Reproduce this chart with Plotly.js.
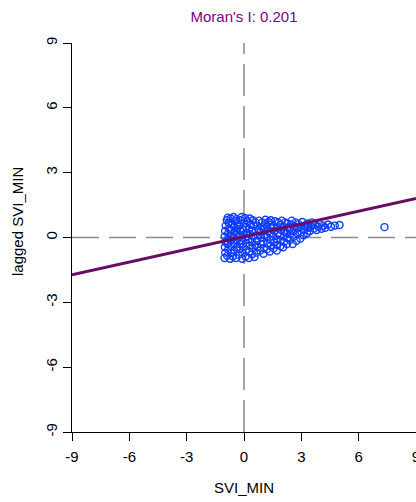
<!DOCTYPE html>
<html>
<head>
<meta charset="utf-8">
<script src="https://cdn.plot.ly/plotly-3.0.1.min.js"></script>
<style>
  html, body { margin: 0; padding: 0; background: #ffffff; }
  #chart { width: 416px; height: 502px; }
</style>
</head>
<body>
<div id="chart"></div>
<script>
// Scatter points: SVI_MIN (x) vs lagged SVI_MIN (y)
const svi = [
  -1.02,-0.98,-1.00,-0.97,-1.01,-0.99,-0.96,-0.90,-0.85,-0.88,-0.82,-0.86,-0.80,-0.84,-0.78,-0.81,-0.70,
  -0.72,-0.68,-0.66,-0.70,-0.64,-0.69,-0.62,-0.55,-0.58,-0.52,-0.50,-0.55,-0.48,-0.53,-0.47,-0.40,
  -0.42,-0.38,-0.36,-0.40,-0.35,-0.37,
  -0.28,-0.25,-0.22,-0.27,-0.20,-0.24,-0.18,-0.12,-0.10,-0.08,-0.05,-0.10,-0.03,-0.07,0.00,0.05,
  0.08,0.10,0.12,0.06,0.14,0.10,0.18,0.25,0.28,0.30,0.24,0.32,0.27,0.35,0.30,0.42,0.45,0.40,0.48,
  0.44,0.50,0.46,0.55,0.58,0.60,
  0.65,0.70,0.68,0.72,0.75,0.70,0.78,0.85,0.88,0.90,0.86,0.92,0.95,1.02,1.05,1.00,1.08,1.04,1.10,
  1.12,1.20,1.22,1.18,1.25,1.20,1.28,1.35,1.38,1.40,1.36,1.42,1.45,1.40,
  1.55,1.58,1.52,1.60,1.56,1.62,1.72,1.75,1.70,1.78,1.74,1.80,1.90,1.92,1.88,1.95,1.90,1.98,2.05,
  2.10,2.08,2.12,2.06,2.15,2.25,2.28,2.22,2.30,2.26,2.40,2.42,2.38,2.45,2.50,
  2.55,2.60,2.58,2.65,2.70,2.75,2.80,2.78,2.85,2.95,3.00,2.98,3.05,3.12,3.15,3.20,3.30,3.35,3.32,
  3.45,3.50,3.55,
  3.65,3.72,3.80,3.88,3.95,4.05,4.15,4.25,4.40,4.55,4.75,5.00,
  7.35
];
const laggedSvi = [
  -0.95,-0.70,-0.45,-0.20,0.05,0.30,0.55,0.80,0.92,-0.85,-0.55,-0.30,-0.05,0.18,0.42,0.68,0.88,
  -0.98,-0.72,-0.40,-0.15,0.10,0.35,0.60,0.95,-0.88,-0.60,-0.28,0.00,0.25,0.50,0.75,0.85,
  -0.95,-0.45,-0.10,0.15,0.40,0.62,
  -0.80,-0.55,-0.30,0.05,0.30,0.55,0.80,0.95,-0.98,-0.70,-0.42,-0.15,0.12,0.40,0.65,0.90,
  -0.88,-0.58,-0.25,0.00,0.22,0.50,0.75,-0.95,-0.65,-0.38,-0.10,0.15,0.38,0.60,0.88,-0.78,-0.50,-0.20,0.05,
  0.30,0.55,0.80,-0.90,-0.35,0.70,
  -0.70,-0.45,-0.15,0.10,0.35,0.55,0.78,-0.60,-0.30,0.00,0.25,0.48,0.70,-0.75,-0.50,-0.20,0.12,0.40,0.62,
  0.82,-0.55,-0.28,0.02,0.28,0.50,0.72,-0.65,-0.38,-0.10,0.18,0.42,0.60,0.80,
  -0.50,-0.22,0.05,0.30,0.52,0.75,-0.60,-0.35,-0.08,0.20,0.45,0.68,-0.40,-0.15,0.10,0.35,0.58,0.78,-0.45,
  -0.20,0.05,0.28,0.50,0.70,-0.30,0.00,0.22,0.45,0.65,-0.10,0.15,0.38,0.60,0.78,
  -0.30,0.05,0.30,0.52,0.70,-0.15,0.20,0.42,0.62,-0.05,0.25,0.50,0.72,0.10,0.35,0.55,0.20,0.45,0.65,
  0.30,0.52,0.70,
  0.42,0.60,0.35,0.50,0.62,0.40,0.55,0.45,0.60,0.50,0.55,0.58,
  0.48
];
// Moran's I regression line end points
const fitX = [-9, 9];
const fitY = [-1.73, 1.81];
const tickVals = [-9, -6, -3, 0, 3, 6, 9];
const tickText = ["-9", "-6", "-3", "0", "3", "6", "9"];
const titleText = "Moran's I: 0.201";
const xTitle = "SVI_MIN";
const yTitle = "lagged SVI_MIN";

const font = "Liberation Sans, Arial, sans-serif";

const traces = [
  {
    type: "scatter", mode: "markers", x: svi, y: laggedSvi,
    marker: { symbol: "circle-open", size: 7, color: "#0f3cff", line: { width: 1.4, color: "#0f3cff" } },
    hoverinfo: "skip", cliponaxis: false
  },
  {
    type: "scatter", mode: "lines", x: fitX, y: fitY,
    line: { color: "#680c68", width: 3 }, hoverinfo: "skip"
  }
];

const layout = {
  width: 416, height: 502,
  margin: { l: 72, r: 0, t: 43, b: 70, pad: 0 },
  paper_bgcolor: "#ffffff", plot_bgcolor: "#ffffff",
  showlegend: false,
  font: { family: font, size: 15, color: "#000000" },
  title: {
    text: titleText, font: { family: font, size: 15, color: "#800080" },
    x: 0.5, xref: "paper", xanchor: "center",
    y: 1 - 17 / 502, yref: "container", yanchor: "middle"
  },
  xaxis: {
    range: [-9, 9], tickvals: tickVals, ticktext: tickText,
    showgrid: false, zeroline: false, showline: true, linecolor: "#000", linewidth: 1,
    ticks: "outside", ticklen: 8, tickwidth: 1, tickcolor: "#000",
    ticklabelstandoff: 3, ticklabeloverflow: "allow",
    tickfont: { family: font, size: 15, color: "#000" },
    automargin: false,
    title: { text: xTitle, font: { family: font, size: 15, color: "#000" }, standoff: 18 }
  },
  yaxis: {
    range: [-9, 9], tickvals: tickVals, ticktext: tickText, tickangle: -90,
    showgrid: false, zeroline: false, showline: true, linecolor: "#000", linewidth: 1,
    ticks: "outside", ticklen: 8, tickwidth: 1, tickcolor: "#000",
    ticklabelstandoff: 0,
    tickfont: { family: font, size: 15, color: "#000" },
    automargin: false
  },
  annotations: [
    { text: yTitle, xref: "paper", yref: "paper", x: (17 - 72) / 344, y: (432 - 222) / 389,
      xanchor: "center", yanchor: "middle", textangle: -90, showarrow: false,
      font: { family: font, size: 15, color: "#000" } }
  ],
  shapes: [
    { type: "line", xref: "x", yref: "y", x0: -9, x1: 9, y0: 0, y1: 0, layer: "below",
      line: { color: "#8a8a8a", width: 1.5, dash: "27px,10px" } },
    { type: "line", xref: "x", yref: "y", x0: 0, x1: 0, y0: -9, y1: 9, layer: "below",
      line: { color: "#8a8a8a", width: 1.5, dash: "32px,10px" } }
  ]
};

Plotly.newPlot("chart", traces, layout, { staticPlot: true, displayModeBar: false });
</script>
</body>
</html>
